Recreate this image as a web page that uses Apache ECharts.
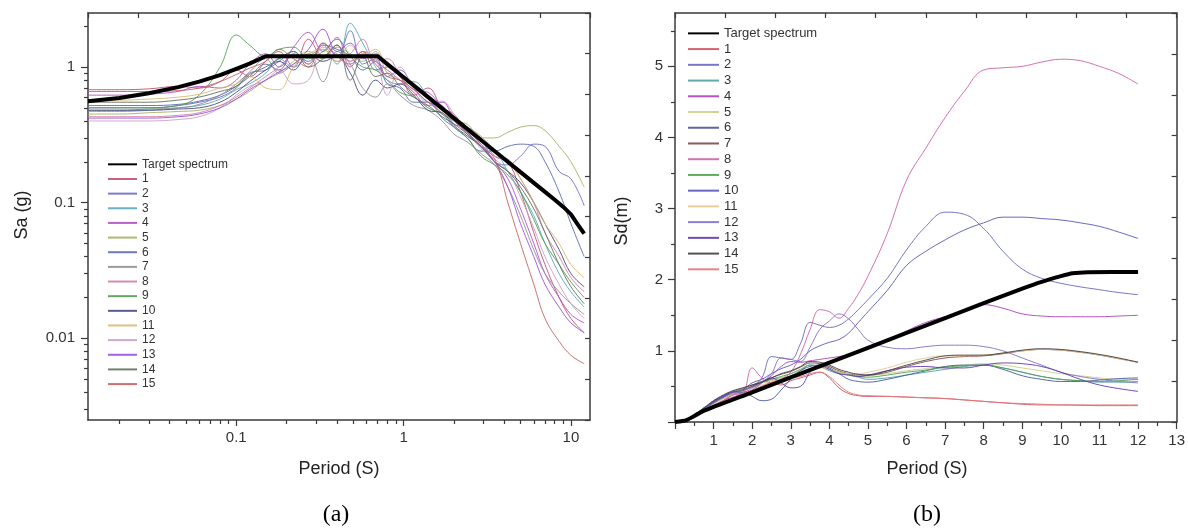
<!DOCTYPE html>
<html><head><meta charset="utf-8">
<script src="https://cdn.jsdelivr.net/npm/echarts@6/dist/echarts.min.js"></script>
<style>html,body{margin:0;padding:0;background:#fff}#c{width:1188px;height:529px}</style>
</head><body><div id="c"></div>
<script>
// ---------- Data: chart (a) Sa vs Period (log-log) ----------
const seriesNames = ['1','2','3','4','5','6','7','8','9','10','11','12','13','14','15'];
const periodsA = [0.013,0.02,0.03,0.045,0.06,0.08,0.1,0.12,0.15,0.18,0.22,0.27,0.33,0.4,0.48,0.57,0.68,0.8,0.95,1.15,1.4,1.7,2.0,2.4,2.9,3.5,4.2,5,6,7,8.5,10,12];
const targetAT  = [0.013,0.02,0.03,0.045,0.06,0.08,0.1,0.12,0.15,0.7,0.8,1,1.5,2,3,4,5,6,7,8,9,10,11,12];
const targetASa = [0.56,0.59,0.64,0.71,0.78,0.87,0.97,1.06,1.2,1.2,1.05,0.84,0.56,0.42,0.28,0.21,0.168,0.14,0.12,0.105,0.093,0.082,0.069,0.059];
const saA1  = [0.68,0.68,0.69,0.72,0.70,0.78,0.95,0.85,1.1,1.3,1.0,1.6,1.2,1.45,1.1,1.3,0.95,1.0,0.85,0.62,0.7,0.5,0.45,0.33,0.3,0.22,0.2,0.12,0.06,0.035,0.02,0.014,0.011];
const saA2  = [0.5,0.5,0.5,0.52,0.55,0.6,0.7,0.9,0.95,1.1,1.3,1.05,1.5,1.2,1.85,1.05,1.15,0.85,0.95,0.7,0.55,0.52,0.38,0.36,0.3,0.2,0.19,0.22,0.27,0.26,0.17,0.15,0.095];
const saA3  = [0.47,0.47,0.48,0.5,0.52,0.58,0.68,0.75,0.9,1.15,1.0,1.2,1.35,1.05,2.1,1.5,1.0,0.8,0.75,0.78,0.6,0.45,0.4,0.32,0.26,0.24,0.17,0.12,0.08,0.05,0.03,0.022,0.017];
const saA4  = [0.62,0.62,0.63,0.66,0.72,0.7,0.8,1.05,1.25,1.0,1.4,1.8,1.3,1.65,1.0,1.25,1.1,0.95,0.8,0.65,0.52,0.55,0.42,0.34,0.27,0.2,0.15,0.09,0.05,0.03,0.02,0.015,0.013];
const saA5  = [0.45,0.45,0.46,0.47,0.48,0.52,0.58,0.66,0.8,0.9,1.1,1.3,1.15,1.4,1.25,1.1,1.3,0.9,0.8,0.72,0.58,0.5,0.4,0.38,0.3,0.3,0.33,0.36,0.37,0.34,0.26,0.2,0.13];
const saA6  = [0.52,0.52,0.52,0.53,0.56,0.62,0.72,0.85,1.05,0.95,1.25,1.1,1.45,1.35,1.2,0.95,1.1,0.75,0.7,0.55,0.55,0.42,0.36,0.3,0.24,0.24,0.26,0.27,0.26,0.2,0.12,0.07,0.04];
const saA7  = [0.48,0.48,0.49,0.5,0.53,0.62,0.75,0.92,1.15,0.9,1.05,1.2,0.78,1.3,1.05,0.7,0.6,0.75,0.62,0.52,0.48,0.4,0.32,0.28,0.23,0.19,0.13,0.08,0.045,0.03,0.022,0.018,0.015];
const saA8  = [0.43,0.43,0.43,0.44,0.46,0.52,0.6,0.7,0.85,1.0,1.2,1.05,1.45,1.1,1.25,1.6,1.1,1.15,0.9,0.75,0.62,0.48,0.42,0.32,0.27,0.22,0.21,0.15,0.1,0.06,0.04,0.028,0.022];
const saA9  = [0.5,0.5,0.5,0.52,0.62,1.0,1.72,1.45,1.2,1.35,1.4,1.15,1.3,1.6,1.2,1.0,0.95,0.8,0.65,0.6,0.5,0.45,0.36,0.3,0.22,0.19,0.16,0.12,0.075,0.05,0.035,0.026,0.02];
const saA10 = [0.48,0.48,0.48,0.49,0.5,0.55,0.65,0.78,0.95,1.1,0.95,1.25,1.1,1.2,0.9,0.62,0.8,0.7,0.75,0.62,0.48,0.46,0.37,0.31,0.26,0.2,0.17,0.14,0.1,0.07,0.045,0.03,0.024];
const saA11 = [0.57,0.57,0.58,0.6,0.63,0.7,0.75,0.85,0.7,0.68,1.0,1.25,1.35,1.1,1.45,1.2,1.35,1.0,0.9,0.7,0.62,0.5,0.43,0.36,0.31,0.24,0.2,0.15,0.1,0.07,0.05,0.035,0.028];
const saA12 = [0.4,0.4,0.4,0.41,0.43,0.5,0.62,0.72,0.8,0.95,0.75,0.8,1.4,1.25,1.1,1.3,1.15,0.62,1.0,0.7,0.55,0.56,0.45,0.34,0.25,0.21,0.17,0.11,0.065,0.04,0.025,0.018,0.014];
const saA13 = [0.42,0.42,0.42,0.43,0.45,0.5,0.58,0.68,0.8,0.92,1.05,1.35,1.9,1.3,1.5,1.15,1.25,1.05,0.85,0.68,0.65,0.5,0.4,0.33,0.26,0.2,0.13,0.07,0.04,0.025,0.017,0.013,0.011];
const saA14 = [0.55,0.55,0.55,0.57,0.6,0.66,0.72,0.88,1.0,1.15,1.3,1.0,1.15,1.45,0.8,1.2,0.85,0.9,0.72,0.6,0.52,0.43,0.38,0.32,0.26,0.2,0.17,0.13,0.09,0.06,0.035,0.024,0.018];
const saA15 = [0.66,0.66,0.66,0.67,0.7,0.78,0.88,0.98,1.1,1.35,1.15,1.0,1.5,1.2,1.05,1.3,1.05,0.85,0.8,0.68,0.55,0.46,0.4,0.33,0.26,0.21,0.1,0.05,0.025,0.014,0.0095,0.0075,0.0065];
const majorTicksXA = [0.1,1,10];
const minorTicksXA = [0.02,0.03,0.04,0.05,0.06,0.07,0.08,0.09,0.2,0.3,0.4,0.5,0.6,0.7,0.8,0.9,2,3,4,5,6,7,8,9];
const majorTicksYA = [0.01,0.1,1];
const minorTicksYA = [0.003,0.004,0.005,0.006,0.007,0.008,0.009,0.02,0.03,0.04,0.05,0.06,0.07,0.08,0.09,0.2,0.3,0.4,0.5,0.6,0.7,0.8,0.9,2];

// ---------- Data: chart (b) Sd vs Period ----------
const periodsB = [0,0.25,0.5,0.75,1,1.25,1.5,1.75,2,2.25,2.5,2.75,3,3.25,3.5,3.75,4,4.25,4.5,4.75,5,5.5,6,6.5,7,7.5,8,8.5,9,9.5,10,10.5,11,11.5,12];
const targetBT  = [0,0.3,0.7,2,4,6,8,9,9.5,10,10.3,10.7,12];
const targetBSd = [0,0.027,0.146,0.417,0.835,1.252,1.67,1.875,1.97,2.05,2.09,2.105,2.11];
const sdB1  = [0,0.03,0.08,0.15,0.24,0.3,0.38,0.42,0.45,0.5,0.55,0.52,0.58,0.62,0.66,0.7,0.62,0.48,0.4,0.37,0.36,0.36,0.35,0.34,0.33,0.31,0.29,0.27,0.25,0.24,0.24,0.235,0.23,0.23,0.23];
const sdB2  = [0,0.02,0.07,0.16,0.28,0.35,0.42,0.45,0.5,0.62,0.92,0.9,0.88,1.1,1.4,1.36,1.33,1.36,1.45,1.58,1.72,2.02,2.42,2.75,2.95,2.92,2.72,2.4,2.15,2.02,1.95,1.9,1.86,1.82,1.79];
const sdB3  = [0,0.03,0.1,0.2,0.27,0.33,0.4,0.45,0.48,0.55,0.6,0.62,0.65,0.72,0.8,0.78,0.72,0.68,0.66,0.63,0.6,0.62,0.66,0.7,0.74,0.78,0.8,0.76,0.7,0.64,0.6,0.58,0.56,0.56,0.57];
const sdB4  = [0,0.02,0.06,0.14,0.22,0.3,0.35,0.4,0.48,0.55,0.65,0.78,0.85,0.84,0.86,0.88,0.9,0.92,0.95,1.0,1.06,1.15,1.28,1.4,1.48,1.55,1.65,1.6,1.52,1.49,1.48,1.48,1.48,1.49,1.5];
const sdB5  = [0,0.03,0.09,0.17,0.25,0.32,0.38,0.43,0.5,0.55,0.58,0.62,0.68,0.72,0.75,0.8,0.78,0.7,0.66,0.64,0.65,0.68,0.72,0.75,0.78,0.8,0.82,0.8,0.76,0.72,0.68,0.65,0.62,0.6,0.6];
const sdB6  = [0,0.03,0.08,0.18,0.3,0.36,0.4,0.42,0.36,0.3,0.32,0.45,0.6,0.72,0.78,0.8,0.76,0.68,0.6,0.57,0.56,0.6,0.66,0.72,0.78,0.8,0.8,0.74,0.65,0.6,0.57,0.57,0.59,0.61,0.62];
const sdB7  = [0,0.03,0.09,0.19,0.29,0.37,0.43,0.47,0.52,0.57,0.62,0.67,0.71,0.77,0.83,0.82,0.78,0.72,0.68,0.66,0.66,0.7,0.78,0.85,0.9,0.92,0.93,0.96,1.0,1.02,1.01,0.98,0.94,0.89,0.84];
const sdB8  = [0,0.02,0.06,0.14,0.22,0.3,0.38,0.4,0.76,0.62,0.55,0.6,0.7,0.95,1.3,1.58,1.55,1.46,1.6,1.8,2.05,2.65,3.4,3.85,4.28,4.65,4.95,4.98,5.0,5.06,5.1,5.08,5.0,4.9,4.75];
const sdB9  = [0,0.03,0.09,0.18,0.28,0.34,0.4,0.46,0.5,0.56,0.6,0.64,0.68,0.74,0.8,0.78,0.74,0.7,0.67,0.64,0.63,0.66,0.7,0.73,0.77,0.79,0.8,0.76,0.7,0.64,0.6,0.58,0.57,0.58,0.6];
const sdB10 = [0,0.03,0.08,0.17,0.26,0.34,0.4,0.45,0.55,0.6,0.68,0.75,0.8,0.88,1.0,1.07,1.12,1.16,1.25,1.4,1.55,1.85,2.2,2.4,2.56,2.7,2.8,2.88,2.88,2.86,2.84,2.8,2.75,2.67,2.58];
const sdB11 = [0,0.03,0.08,0.16,0.25,0.33,0.4,0.44,0.47,0.52,0.58,0.6,0.64,0.7,0.74,0.76,0.74,0.7,0.68,0.68,0.7,0.76,0.84,0.9,0.93,0.93,0.94,0.97,1.0,1.02,1.01,0.98,0.94,0.89,0.84];
const sdB12 = [0,0.03,0.09,0.18,0.27,0.36,0.42,0.4,0.45,0.55,0.68,0.9,0.88,0.85,1.05,1.3,1.42,1.52,1.45,1.3,1.15,1.05,1.03,1.06,1.08,1.08,1.06,1.0,0.9,0.8,0.7,0.64,0.6,0.57,0.55];
const sdB13 = [0,0.03,0.09,0.19,0.28,0.36,0.42,0.44,0.5,0.56,0.62,0.55,0.48,0.5,0.7,0.8,0.74,0.68,0.66,0.64,0.66,0.72,0.77,0.78,0.76,0.76,0.8,0.83,0.82,0.78,0.7,0.6,0.52,0.47,0.43];
const sdB14 = [0,0.03,0.1,0.2,0.3,0.38,0.44,0.48,0.52,0.56,0.62,0.68,0.72,0.78,0.85,0.84,0.8,0.74,0.7,0.67,0.66,0.72,0.8,0.87,0.93,0.94,0.94,0.97,1.01,1.03,1.02,0.99,0.95,0.9,0.84];
const sdB15 = [0,0.02,0.07,0.15,0.22,0.28,0.34,0.4,0.44,0.5,0.56,0.6,0.62,0.64,0.68,0.7,0.64,0.52,0.42,0.38,0.37,0.36,0.35,0.34,0.33,0.31,0.29,0.27,0.26,0.25,0.24,0.24,0.24,0.24,0.24];
const majorLabelsYB = [1,2,3,4,5];
const majorTicksYB = [0,1,2,3,4,5];
const minorTicksYB = [0.5,1.5,2.5,3.5,4.5,5.5];

// ---------- Build ----------
const saA = [saA1,saA2,saA3,saA4,saA5,saA6,saA7,saA8,saA9,saA10,saA11,saA12,saA13,saA14,saA15];
const sdB = [sdB1,sdB2,sdB3,sdB4,sdB5,sdB6,sdB7,sdB8,sdB9,sdB10,sdB11,sdB12,sdB13,sdB14,sdB15];
const colorsA = ['#c05070','#6a6ac8','#5aa8b8','#b050c8','#a8b060','#5a6ab0','#909090','#d080a8','#50a050','#484880','#e0b870','#c8a0c8','#9a50e0','#607060','#c86060'];
const colorsB = ['#d05060','#6868c0','#50a0a8','#b040c0','#c8d088','#4858a0','#804848','#d060a8','#50a050','#5858b8','#e8c890','#8070c8','#6038b0','#404040','#e07878'];
const FONT = 'Liberation Sans, Arial, sans-serif';
const AX = '#3a3a3a';
const axLine = {show:true, onZero:false, lineStyle:{color:AX, width:1.5}};
const tickStyle = {color:AX, width:1.2};
const lbl = {color:'#333', fontSize:15, fontFamily:FONT};
const fmtNum = v => String(+(+v).toPrecision(4));

const series = [];
saA.forEach((arr, k) => series.push({
  name: seriesNames[k], type:'line', xAxisIndex:0, yAxisIndex:0, symbol:'none', smooth:0.4,
  data: periodsA.map((t,i)=>[t, arr[i]]),
  lineStyle:{width:1, color:colorsA[k], opacity:0.9}, itemStyle:{color:colorsA[k]}, z:2
}));
series.push({name:'Target spectrum', type:'line', xAxisIndex:0, yAxisIndex:0, symbol:'none',
  data: targetAT.map((t,i)=>[t, targetASa[i]]), lineStyle:{width:4, color:'#000'}, itemStyle:{color:'#000'}, z:5});
sdB.forEach((arr, k) => series.push({
  name: 'b#' + seriesNames[k], type:'line', xAxisIndex:3, yAxisIndex:3, symbol:'none', smooth:0.4,
  data: periodsB.map((t,i)=>[t, arr[i]]),
  lineStyle:{width:1, color:colorsB[k], opacity:0.9}, itemStyle:{color:colorsB[k]}, z:2
}));
series.push({name:'b#Target spectrum', type:'line', xAxisIndex:3, yAxisIndex:3, symbol:'none', smooth:0.2,
  data: targetBT.map((t,i)=>[t, targetBSd[i]]), lineStyle:{width:4, color:'#000'}, itemStyle:{color:'#000'}, z:5});

const mirrorX = g => ({gridIndex:g, type:'value', position:'top', min:0, max:10, interval:1,
  axisLine:axLine, axisTick:{show:true, inside:true, length:5, lineStyle:tickStyle}, axisLabel:{show:false}, splitLine:{show:false}});
const mirrorY = g => ({gridIndex:g, type:'value', position:'right', min:0, max:10, interval:1,
  axisLine:axLine, axisTick:{show:true, inside:true, length:5, lineStyle:tickStyle}, axisLabel:{show:false}, splitLine:{show:false}});

const option = {
  animation:false,
  backgroundColor:'#fff',
  grid:[
    {left:88, top:13, width:502, height:407, containLabel:false},
    {left:675, top:13, width:504, height:409, containLabel:false}
  ],
  xAxis:[
    {gridIndex:0, type:'log', logBase:10, min:0.013, max:13, position:'bottom',
     axisLine:axLine, splitLine:{show:false},
     axisTick:{show:true, length:6, customValues:majorTicksXA, lineStyle:tickStyle},
     axisLabel:Object.assign({customValues:majorTicksXA, margin:10, formatter:fmtNum}, lbl)},
    {gridIndex:0, type:'log', logBase:10, min:0.013, max:13, position:'bottom',
     axisLine:{show:false}, splitLine:{show:false}, axisLabel:{show:false},
     axisTick:{show:true, length:4, customValues:minorTicksXA, lineStyle:tickStyle}},
    mirrorX(0),
    {gridIndex:1, type:'value', min:0, max:13, interval:1, position:'bottom',
     axisLine:axLine, splitLine:{show:false},
     axisTick:{show:true, length:7, lineStyle:tickStyle},
     minorTick:{show:true, splitNumber:2, length:4, lineStyle:tickStyle},
     axisLabel:Object.assign({margin:11, formatter:v => v === 0 ? '' : String(v)}, lbl)},
    mirrorX(1)
  ],
  yAxis:[
    {gridIndex:0, type:'log', logBase:10, min:0.0025, max:2.5, position:'left',
     axisLine:axLine, splitLine:{show:false},
     axisTick:{show:true, length:7, customValues:majorTicksYA, lineStyle:tickStyle},
     axisLabel:Object.assign({customValues:majorTicksYA, margin:13, formatter:fmtNum}, lbl)},
    {gridIndex:0, type:'log', logBase:10, min:0.0025, max:2.5, position:'left',
     axisLine:{show:false}, splitLine:{show:false}, axisLabel:{show:false},
     axisTick:{show:true, length:4, customValues:minorTicksYA, lineStyle:tickStyle}},
    mirrorY(0),
    {gridIndex:1, type:'value', min:0, max:5.75, position:'left',
     axisLine:axLine, splitLine:{show:false},
     axisTick:{show:true, length:7, customValues:majorTicksYB, lineStyle:tickStyle},
     axisLabel:Object.assign({customValues:majorLabelsYB, margin:12}, lbl)},
    {gridIndex:1, type:'value', min:0, max:5.75, position:'left',
     axisLine:{show:false}, splitLine:{show:false}, axisLabel:{show:false},
     axisTick:{show:true, length:4, customValues:minorTicksYB, lineStyle:tickStyle}},
    mirrorY(1)
  ],
  legend:[
    {orient:'vertical', left:107, top:157, itemWidth:29, itemHeight:14.65, itemGap:0, padding:0,
     selectedMode:false, data:['Target spectrum'].concat(seriesNames),
     itemStyle:{opacity:0},
     textStyle:{fontSize:12, color:'#333', fontFamily:FONT, lineHeight:14.65}},
    {orient:'vertical', left:687, top:25.5, itemWidth:31, itemHeight:15.73, itemGap:0, padding:0,
     selectedMode:false, data:['b#Target spectrum'].concat(seriesNames.map(n => 'b#' + n)),
     formatter: n => n.split('#').pop(),
     itemStyle:{opacity:0},
     textStyle:{fontSize:13, color:'#333', fontFamily:FONT, lineHeight:15.73}}
  ],
  graphic:[
    {type:'text', x:22, y:215, rotation:Math.PI/2, style:{text:'Sa (g)', font:'18px ' + FONT, fill:'#222', align:'center', verticalAlign:'middle', textAlign:'center', textVerticalAlign:'middle'}},
    {type:'text', x:339, y:469, style:{text:'Period (S)', font:'18px ' + FONT, fill:'#222', align:'center', verticalAlign:'middle', textAlign:'center', textVerticalAlign:'middle'}},
    {type:'text', x:336, y:515, style:{text:'(a)', font:'24px Liberation Serif, Times New Roman, serif', fill:'#000', align:'center', verticalAlign:'middle', textAlign:'center', textVerticalAlign:'middle'}},
    {type:'text', x:622, y:221, rotation:Math.PI/2, style:{text:'Sd(m)', font:'18px ' + FONT, fill:'#222', align:'center', verticalAlign:'middle', textAlign:'center', textVerticalAlign:'middle'}},
    {type:'text', x:927, y:469, style:{text:'Period (S)', font:'18px ' + FONT, fill:'#222', align:'center', verticalAlign:'middle', textAlign:'center', textVerticalAlign:'middle'}},
    {type:'text', x:927, y:515, style:{text:'(b)', font:'24px Liberation Serif, Times New Roman, serif', fill:'#000', align:'center', verticalAlign:'middle', textAlign:'center', textVerticalAlign:'middle'}}
  ],
  series: series
};
const chart = echarts.init(document.getElementById('c'), null, {renderer:'canvas'});
chart.setOption(option);
</script>
</body></html>
